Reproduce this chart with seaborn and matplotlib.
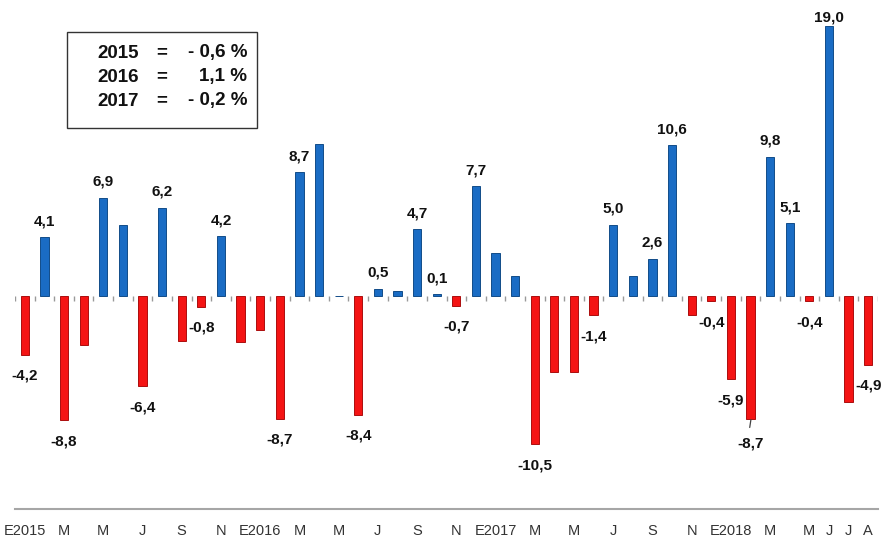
import matplotlib
matplotlib.use("Agg")
import matplotlib.pyplot as plt
from matplotlib.patches import Rectangle
import seaborn as sns
import pandas as pd

# ---- data ----
months = ["E2015", "F", "M", "A", "M", "J", "J", "A", "S", "O", "N", "D",
          "E2016", "F", "M", "A", "M", "J", "J", "A", "S", "O", "N", "D",
          "E2017", "F", "M", "A", "M", "J", "J", "A", "S", "O", "N", "D",
          "E2018", "F", "M", "A", "M", "J", "J", "A"]
values = [-4.2, 4.1, -8.8, -3.5, 6.9, 5.0, -6.4, 6.2, -3.2, -0.8, 4.2, -3.3,
          -2.4, -8.7, 8.7, 10.7, 0.0, -8.4, 0.5, 0.3, 4.7, 0.1, -0.7, 7.7,
          3.0, 1.4, -10.5, -5.4, -5.4, -1.4, 5.0, 1.4, 2.6, 10.6, -1.4, -0.4,
          -5.9, -8.7, 9.8, 5.1, -0.4, 19.0, -7.5, -4.9]
labelled = [1, 1, 1, 0, 1, 0, 1, 1, 0, 1, 1, 0,
            0, 1, 1, 0, 0, 1, 1, 0, 1, 1, 1, 1,
            0, 0, 1, 0, 0, 1, 1, 0, 1, 1, 0, 1,
            1, 1, 1, 1, 1, 1, 0, 1]
tick_positions = [0, 2, 4, 6, 8, 10, 12, 14, 16, 18, 20, 22,
                  24, 26, 28, 30, 32, 34, 36, 38, 40, 41, 42, 43]
tick_labels = ["E2015", "M", "M", "J", "S", "N", "E2016", "M", "M", "J", "S", "N",
               "E2017", "M", "M", "J", "S", "N", "E2018", "M", "M", "J", "J", "A"]
box_years = ["2015", "2016", "2017"]
box_values = ["- 0,6 %", "1,1 %", "- 0,2 %"]

BLUE = "#1a6cc4"
RED = "#f41414"
FONT = ["Liberation Sans", "DejaVu Sans"]

df = pd.DataFrame({"idx": list(range(len(values))), "value": values})
df["sign"] = ["pos" if v >= 0 else "neg" for v in values]

sns.set_theme(style="white")
plt.rcParams["font.family"] = FONT

fig = plt.figure(figsize=(8.83, 5.41), dpi=100)
ax = fig.add_axes([15 / 883, 32 / 541, 863 / 883, 509 / 541])

sns.barplot(data=df, x="idx", y="value", hue="sign",
            palette={"pos": BLUE, "neg": RED}, dodge=False, width=0.42,
            legend=False, ax=ax, saturation=1)
for bar in ax.patches:
    fc = bar.get_facecolor()
    bar.set_edgecolor(tuple(c * 0.7 for c in fc[:3]) + (1,))
    bar.set_linewidth(0.7)

ax.set_xlim(-0.5, len(values) - 0.5)
ax.set_ylim(-15.05, 20.85)

# small tick marks at the zero line between categories
for i in range(len(values) + 1):
    ax.plot([i - 0.5, i - 0.5], [0, -0.38], color="#999999", lw=1.0,
            solid_capstyle="butt", zorder=1)

# value labels
for i, (v, show) in enumerate(zip(values, labelled)):
    if not show:
        continue
    txt = f"{v:.1f}".replace(".", ",")
    off = 11.5 if v >= 0 else -15.0
    if i == 41:
        off = 6.5
    if i == 37:
        off = -17.5
        ax.plot([i + 0.02, i - 0.04], [v - 0.05, v - 0.6], color="#444444", lw=0.9)
    ax.annotate(txt, (i, v), xytext=(0, off), textcoords="offset points",
                ha="center", va="center", fontsize=11, fontweight="bold",
                color="#111111")

# axes styling
for s in ["left", "right", "top"]:
    ax.spines[s].set_visible(False)
ax.spines["bottom"].set_color("#a6a6a6")
ax.spines["bottom"].set_linewidth(1.5)
ax.set_yticks([])
ax.set_xticks(tick_positions)
ax.set_xticklabels(tick_labels, fontsize=10.5, color="#333333")
ax.tick_params(axis="x", length=0, pad=11)
ax.set_xlabel("")
ax.set_ylabel("")

# annual summary box
fig.patches.append(Rectangle((67 / 883, 1 - 128 / 541), 190 / 883, 96 / 541,
                             transform=fig.transFigure, fill=False,
                             edgecolor="#333333", lw=1.0))
for k, (yr, val) in enumerate(zip(box_years, box_values)):
    yc = 1 - (53 + 24 * k) / 541
    fig.text(97 / 883, yc, yr, ha="left", va="center", fontsize=13.5,
             fontweight="bold", color="#111111")
    fig.text(162 / 883, yc, "=", ha="center", va="center", fontsize=13.5,
             fontweight="bold", color="#111111")
    fig.text(247 / 883, yc, val, ha="right", va="center", fontsize=13.5,
             fontweight="bold", color="#111111")

fig.savefig("out.png", dpi=100)
